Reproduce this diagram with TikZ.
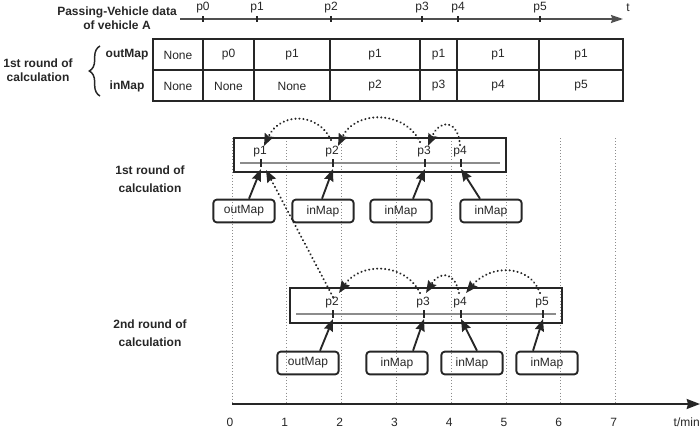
\documentclass[tikz,border=0pt]{standalone}
\usepackage{fontspec}
\setmainfont{Liberation Sans}
\usetikzlibrary{arrows.meta,decorations.pathreplacing,calc}

\definecolor{ink}{HTML}{262626}
\definecolor{axisgray}{HTML}{505050}
\definecolor{gridgray}{HTML}{8C8C8C}

\begin{document}
\begin{tikzpicture}[x=0.75pt,y=-0.75pt,
  font=\fontsize{9}{10.5}\selectfont, text=ink,
  lbl/.style={inner sep=0pt, align=center},
  bold/.style={lbl, font=\fontsize{9}{10.5}\selectfont\bfseries},
  tbl/.style={draw=ink, line width=1.3pt},
  frame/.style={draw=ink, line width=1.4pt},
  mapbox/.style={draw=ink, line width=1.4pt, rounded corners=2.5pt,
    minimum width=46pt, minimum height=17pt, inner sep=0pt},
  ptr/.style={draw=ink, line width=1.4pt,
    -{Stealth[length=9pt,width=7pt,inset=1pt]}},
  hop/.style={draw=ink, line width=1.7pt, line cap=round,
    dash pattern=on 0.01pt off 3pt,
    -{Stealth[length=9pt,width=7pt,inset=1pt,line cap=butt]}},
  guide/.style={draw=gridgray, line width=0.7pt, dash pattern=on 0.7pt off 1.6pt},
  tickmark/.style={draw=ink, line width=1.1pt},
  innerline/.style={draw=gridgray, line width=0.8pt},
]
\useasboundingbox (0,0) rectangle (700,435);

% ---------- passing-vehicle time line ----------
\node[bold, font=\fontsize{9}{10.7}\selectfont\bfseries] (title) at (117,18)
  {Passing-Vehicle data\\of vehicle A};
\draw[draw=axisgray, line width=1.1pt, -{Stealth[length=9pt,width=6pt,inset=1pt]}]
  (180,19) -- (623,19);
\node[lbl] (tlab) at (628,8) {t};
\foreach \x/\n in {203/0,257/1,331/2,422/3,458/4,540/5}{
  \draw[tickmark] (\x,16) -- (\x,22);
  \node[lbl] (tp\n) at (\x,8) {p\n};
}

% ---------- outMap / inMap table ----------
\draw[tbl] (153,39) rectangle (623,101);
\draw[tbl] (153,70) -- (623,70);
\foreach \x in {203,254,330,420,457,539}
  \draw[tbl] (\x,39) -- (\x,101);
\foreach \x/\o/\i [count=\c] in {178/None/None, 228.5/p0/None, 292/p1/None,
    375/p1/p2, 438.5/p1/p3, 498/p1/p4, 581/p1/p5}{
  \node[lbl] (out\c) at (\x,55) {\o};
  \node[lbl] (in\c) at (\x,86) {\i};
}
\node[bold] (rowout) at (127,55) {outMap};
\node[bold] (rowin) at (127,86) {inMap};
\draw[draw=ink, line width=1.1pt, decorate, decoration={brace, amplitude=8pt}]
  (100,96) -- (100,46);
\node[bold, font=\fontsize{9}{10.5}\selectfont\bfseries] (tabround) at (38,70)
  {1st round of\\calculation};

% ---------- minute grid and axis ----------
\foreach \k in {0,...,7}
  \draw[guide] ({232+54.8*\k},138) -- ({232+54.8*\k},402);
\draw[draw=ink, line width=1.3pt, -{Stealth[length=10pt,width=7.5pt,inset=1pt]}]
  (232,404) -- (700,404);
\foreach \k in {0,...,7}
  \node[lbl] (m\k) at ({230+54.8*\k},422) {\k};
\node[lbl, anchor=east] (unit) at (700,422) {t/min};

% ---------- first round ----------
\node[bold, font=\fontsize{9}{13.5}\selectfont\bfseries] (round1) at (150,179)
  {1st round of\\calculation};
\draw[frame] (234,138) rectangle (506,172);
\draw[innerline] (240,163) -- (500,163);
\foreach \x/\n in {261/1,333/2,425/3,461/4}{
  \draw[tickmark] (\x,159) -- (\x,167);
  \node[lbl] (ap\n) at (\x-1,152) {p\n};
  \coordinate (at\n) at (\x,169);
}
\node[mapbox] (om1) at (244,211) {outMap};
\node[mapbox] (im1) at (323,211) {inMap};
\node[mapbox] (im2) at (401,211) {inMap};
\node[mapbox] (im3) at (491,211) {inMap};
\draw[ptr] ($(om1.north)+(5,0)$) -- (at1);
\draw[ptr] ($(im1.north)+(-1,0)$) -- (at2);
\draw[ptr] ($(im2.north)+(12,0)$) -- (at3);
\draw[ptr] ($(im3.north)+(-11,0)$) -- (at4);

% hops back to the previous passing point
\coordinate (as2) at (331,140);
\coordinate (as3) at (420,142);
\coordinate (as4) at (460,145);
\coordinate (ae1) at (264,146);
\coordinate (ae2) at (338,146);
\coordinate (ae3) at (428,146);
\draw[hop] (as2) .. controls (318,112) and (280,112) .. (ae1);
\draw[hop] (as3) .. controls (405,110) and (355,110) .. (ae2);
\draw[hop] (as4) .. controls (458,120) and (440,118) .. (ae3);

% ---------- second round ----------
\node[bold, font=\fontsize{9}{13.5}\selectfont\bfseries] (round2) at (150,333)
  {2nd round of\\calculation};
\draw[frame] (290,288) rectangle (562,323);
\draw[innerline] (296,314) -- (556,314);
\foreach \x/\n in {333/2,424/3,461/4,543/5}{
  \draw[tickmark] (\x,310) -- (\x,318);
  \node[lbl] (bp\n) at (\x-1,303) {p\n};
  \coordinate (bt\n) at (\x,319);
}
\node[mapbox] (om2) at (308,363) {outMap};
\node[mapbox] (im4) at (397,363) {inMap};
\node[mapbox] (im5) at (472,363) {inMap};
\node[mapbox] (im6) at (547,363) {inMap};
\draw[ptr] ($(om2.north)+(12,0)$) -- (bt2);
\draw[ptr] ($(im4.north)+(16,0)$) -- (bt3);
\draw[ptr] ($(im5.north)+(5,0)$) -- (bt4);
\draw[ptr] ($(im6.north)+(-14,0)$) -- (bt5);

\coordinate (bs3) at (420,293);
\coordinate (bs4) at (459,293);
\coordinate (bs5) at (540,293);
\coordinate (be2) at (339,293);
\coordinate (be3) at (426,293);
\coordinate (be4) at (466,293);
\draw[hop] (bs3) .. controls (405,262) and (360,262) .. (be2);
\draw[hop] (bs4) .. controls (455,272) and (440,270) .. (be3);
\draw[hop] (bs5) .. controls (530,264) and (490,264) .. (be4);

% link from the second round back into the first
\coordinate (link2) at (333,297);
\coordinate (link1) at (266,170);
\draw[hop] (link2) -- (link1);
\end{tikzpicture}
\end{document}
